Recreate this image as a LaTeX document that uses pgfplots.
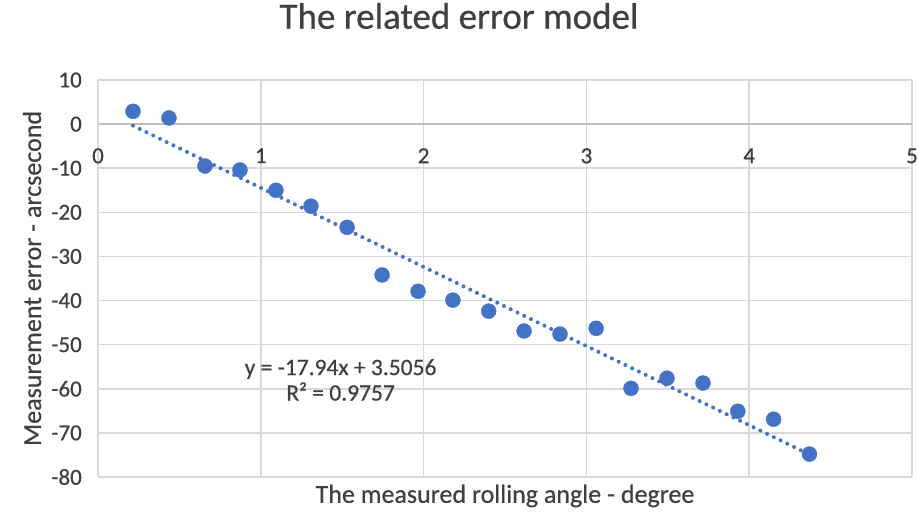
\documentclass[border=0pt]{standalone}
\usepackage{fontspec}
\setmainfont{Carlito}[FakeBold=0.6]
\usepackage{pgfplots}
\pgfplotsset{compat=1.18}
\definecolor{xlblue}{RGB}{68,114,196}
\definecolor{txtgray}{RGB}{64,64,64}
\definecolor{gridgray}{RGB}{217,217,217}
\definecolor{axisgray}{RGB}{191,191,191}

\begin{document}
\begin{tikzpicture}
\useasboundingbox (-98pt,-35pt) rectangle (820pt,477pt);
\begin{axis}[
  at={(0,0)}, anchor=south west,
  scale only axis, width=814pt, height=397pt,
  xmin=0, xmax=5, ymin=-80, ymax=10,
  xtick={0,1,2,3,4,5}, ytick={-80,-70,...,10},
  axis x line=middle, axis y line=left,
  hide obscured x ticks=false, hide obscured y ticks=false,
  x axis line style={-, draw=axisgray, line width=1.8pt},
  y axis line style={-, draw=gridgray, line width=1.5pt},
  major tick length=0pt,
  grid=major, grid style={draw=gridgray, line width=1.5pt},
  tick label style={font=\fontsize{23}{26}\selectfont, text=txtgray},
  /pgf/number format/assume math mode=true,
  xticklabel style={anchor=north, inner sep=0pt, yshift=-24pt},
  yticklabel style={anchor=east, inner sep=0pt, xshift=-16pt},
  xlabel={The measured rolling angle - degree},
  ylabel={Measurement error - arcsecond},
  label style={font=\fontsize{26}{29}\selectfont, text=txtgray},
  xlabel style={at={(axis description cs:0.5,0)}, anchor=center, yshift=-19pt},
  ylabel style={at={(axis description cs:-0.081,0.5)}, anchor=center, rotate=0},
  title={The related error model},
  title style={font=\fontsize{37}{40}\selectfont, text=txtgray,
               at={(axis description cs:0.5,1)}, anchor=center, yshift=58pt, xshift=-46pt},
  clip=false,
]
\addplot[xlblue, line width=4pt, line cap=round, dash pattern=on 0pt off 7.5pt]
  coordinates {(0.215,-0.35) (4.37,-74.89)};
\addplot[only marks, mark=*, mark size=7.5pt, color=xlblue, fill=xlblue]
  coordinates {
    (0.215,2.9) (0.436,1.4) (0.657,-9.5) (0.872,-10.4) (1.093,-15.0)
    (1.308,-18.6) (1.530,-23.4) (1.745,-34.2) (1.966,-37.9) (2.180,-39.9)
    (2.400,-42.4) (2.617,-46.9) (2.838,-47.6) (3.060,-46.3) (3.274,-59.9)
    (3.495,-57.6) (3.716,-58.7) (3.930,-65.1) (4.150,-66.9) (4.370,-74.8)
  };
\node[font=\fontsize{23.5}{25.5}\selectfont, text=txtgray, align=center]
  at (axis cs:1.49,-58) {y = -17.94x + 3.5056\\R² = 0.9757};
\end{axis}
\end{tikzpicture}
\end{document}
